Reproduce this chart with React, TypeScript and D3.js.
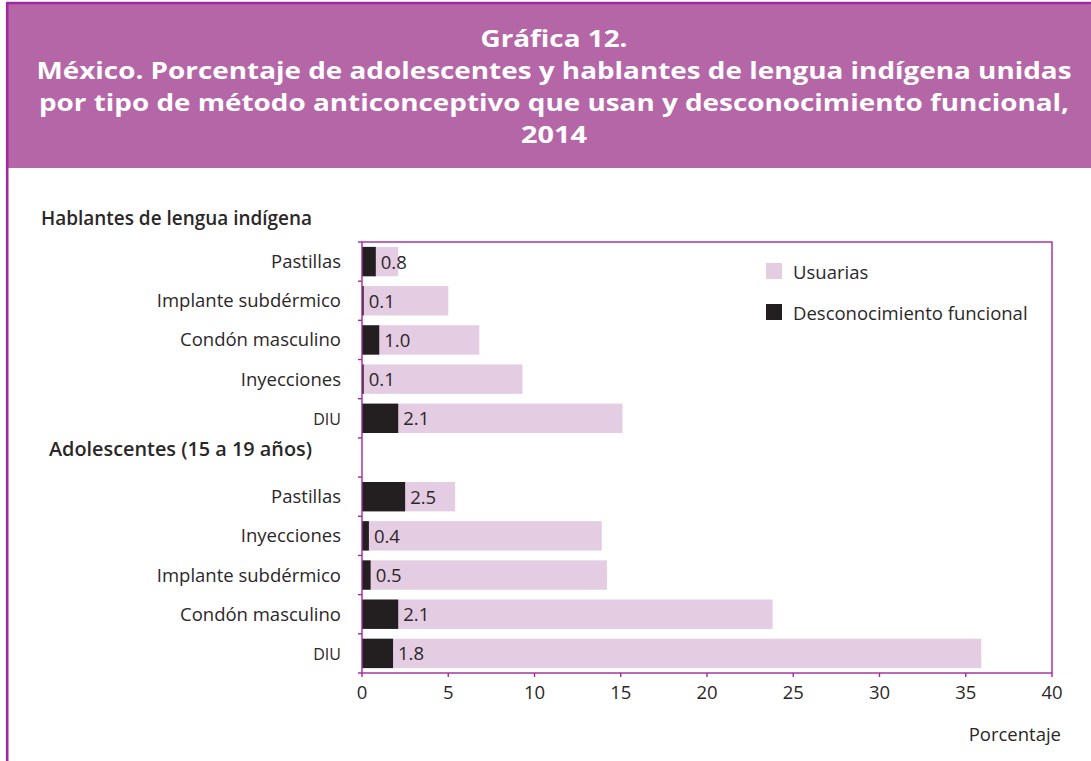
import React from "react";
import * as d3 from "d3";

// Datos
const metodosHLI = ["Pastillas", "Implante subdérmico", "Condón masculino", "Inyecciones", "DIU"];
const usuariasHLI = [2.1, 5.0, 6.8, 9.3, 15.1];
const desconocHLI = [0.8, 0.1, 1.0, 0.1, 2.1];

const metodosAdol = ["Pastillas", "Inyecciones", "Implante subdérmico", "Condón masculino", "DIU"];
const usuariasAdol = [5.4, 13.9, 14.2, 23.8, 35.9];
const desconocAdol = [2.5, 0.4, 0.5, 2.1, 1.8];

const xTicks = [0, 5, 10, 15, 20, 25, 30, 35, 40];
const titleLines = [
  "Gráfica 12.",
  "México. Porcentaje de adolescentes y hablantes de lengua indígena unidas",
  "por tipo de método anticonceptivo que usan y desconocimiento funcional,",
  "2014",
];
// ancho de cada renglón del título en el original
const titleWidths = [147, 1035, 1030, 66];

const W = 1091;
const H = 761;
const FONT = "'Open Sans', 'Noto Sans', sans-serif";
const MAGENTA = "#a3289d";
const HEADER = "#b566a7";
const LILAC = "#e4cce2";
const DARK = "#231f20";
const TEXT = "#2b2729";
const FS = 18.5;

const plot = { left: 362, right: 1052, top: 242, bottom: 673 };

type Row = { key: string; label: string; usuarias: number; desconoc: number };

const rows: Row[] = [
  ...metodosHLI.map((m, i) => ({ key: "hli-" + m, label: m, usuarias: usuariasHLI[i], desconoc: desconocHLI[i] })),
  { key: "gap", label: "", usuarias: NaN, desconoc: NaN },
  ...metodosAdol.map((m, i) => ({ key: "adol-" + m, label: m, usuarias: usuariasAdol[i], desconoc: desconocAdol[i] })),
];

export default function App() {
  const x = d3.scaleLinear().domain([0, 40]).range([plot.left, plot.right]);
  const y = d3
    .scaleBand<string>()
    .domain(rows.map((r) => r.key))
    .range([plot.top, plot.bottom])
    .paddingInner(0.25)
    .paddingOuter(0.125);
  const step = y.step();
  const bw = y.bandwidth();
  // límites de cada categoría para las marcas del eje
  const boundaries = d3.range(rows.length + 1).map((i) => plot.top + i * step);

  return (
    <svg
      width={W}
      height={H}
      style={{ position: "absolute", left: 0, top: 0, background: "#fff" }}
      fontFamily={FONT}
    >
      {/* encabezado */}
      <rect x={7} y={2} width={W - 7} height={166} fill={HEADER} />
      <line x1={7} x2={W} y1={3} y2={3} stroke={MAGENTA} strokeWidth={2.5} />
      <line x1={7.2} x2={7.2} y1={2} y2={H} stroke={MAGENTA} strokeWidth={2.6} />
      {titleLines.map((t, i) => (
        <text
          key={i}
          x={554}
          y={47 + i * 32}
          textAnchor="middle"
          fill="#fff"
          fontWeight={700}
          fontSize={23.2}
          textLength={titleWidths[i]}
          lengthAdjust="spacingAndGlyphs"
        >
          {t}
        </text>
      ))}

      {/* títulos de grupo */}
      <text x={41} y={225} fontSize={19.5} fontWeight={600} fill={TEXT} textLength={271} lengthAdjust="spacingAndGlyphs">
        Hablantes de lengua indígena
      </text>
      <text x={49} y={456} fontSize={19.5} fontWeight={600} fill={TEXT} textLength={263} lengthAdjust="spacingAndGlyphs">
        Adolescentes (15 a 19 años)
      </text>

      {/* barras */}
      {rows
        .filter((r) => r.key !== "gap")
        .map((r) => {
          const y0 = y(r.key)!;
          const cy = y0 + bw / 2;
          return (
            <g key={r.key}>
              <rect x={x(0)} y={y0} width={x(r.usuarias) - x(0)} height={bw} fill={LILAC} />
              <rect x={x(0)} y={y0} width={x(r.desconoc) - x(0)} height={bw} fill={DARK} />
              <text x={x(r.desconoc) + 5} y={cy + 7} fontSize={FS} fill={TEXT}>
                {r.desconoc.toFixed(1)}
              </text>
              <text
                x={341}
                y={cy + 6.5}
                textAnchor="end"
                fontSize={r.label === "DIU" ? 16 : FS}
                fill={TEXT}
              >
                {r.label}
              </text>
            </g>
          );
        })}

      {/* marco */}
      <rect
        x={plot.left}
        y={plot.top}
        width={plot.right - plot.left}
        height={plot.bottom - plot.top}
        fill="none"
        stroke={MAGENTA}
        strokeWidth={1.4}
      />
      {boundaries.map((b, i) => (
        <line key={i} x1={plot.left - 4} x2={plot.left} y1={b} y2={b} stroke={MAGENTA} strokeWidth={1.4} />
      ))}
      {xTicks.map((t) => (
        <g key={t}>
          <line x1={x(t)} x2={x(t)} y1={plot.bottom} y2={plot.bottom + 4} stroke={MAGENTA} strokeWidth={1.4} />
          <text x={x(t)} y={699} textAnchor="middle" fontSize={FS} fill={TEXT}>
            {t}
          </text>
        </g>
      ))}
      <text x={1061} y={741} textAnchor="end" fontSize={FS} fill={TEXT}>
        Porcentaje
      </text>

      {/* leyenda */}
      <rect x={766} y={263} width={16} height={16} fill={LILAC} />
      <text x={793} y={279} fontSize={FS} fill={TEXT}>
        Usuarias
      </text>
      <rect x={766} y={304} width={16} height={16} fill={DARK} />
      <text x={793} y={320} fontSize={FS} fill={TEXT}>
        Desconocimiento funcional
      </text>
    </svg>
  );
}
